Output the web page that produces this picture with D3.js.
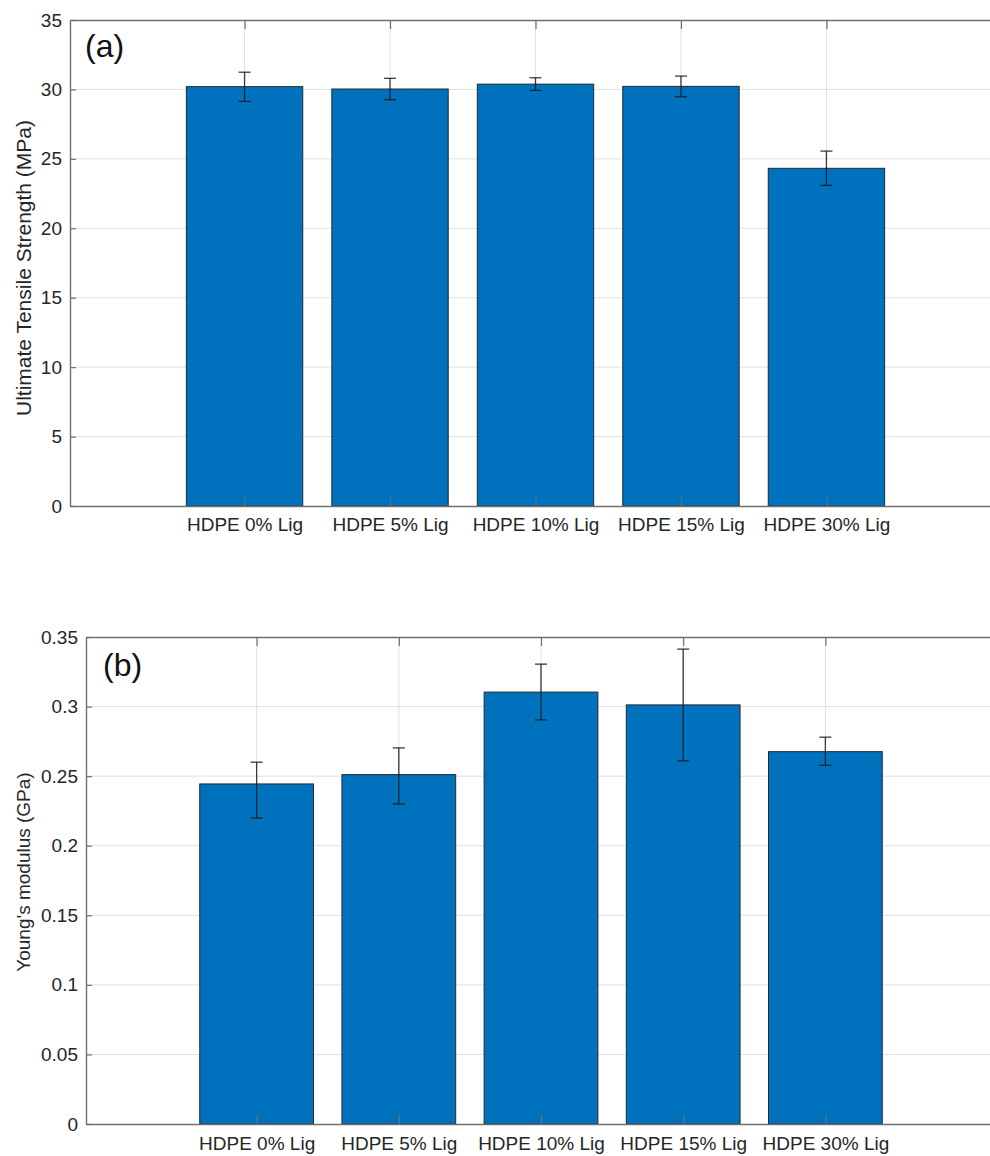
<!DOCTYPE html>
<html>
<head>
<meta charset="utf-8">
<script src="https://cdn.jsdelivr.net/npm/d3@7"></script>
<style>
  body { margin: 0; background: #fff; }
  svg { display: block; }
  text { font-family: "Liberation Sans", Arial, sans-serif; }
</style>
</head>
<body>
<svg id="chart" width="990" height="1156"></svg>
<script>
// categories shared by both panels
const categories = ["HDPE 0% Lig", "HDPE 5% Lig", "HDPE 10% Lig", "HDPE 15% Lig", "HDPE 30% Lig"];

// (a) ultimate tensile strength, MPa (error bar ends)
const utsMean = [30.2, 30.03, 30.38, 30.22, 24.32];
const utsLow  = [29.14, 29.26, 29.93, 29.47, 23.09];
const utsHigh = [31.24, 30.8, 30.84, 30.96, 25.56];
const utsTicks = [0, 5, 10, 15, 20, 25, 30, 35];

// (b) Young's modulus, GPa
const ymMean = [0.2444, 0.2511, 0.3104, 0.3012, 0.2676];
const ymLow  = [0.2199, 0.2300, 0.2904, 0.2610, 0.2578];
const ymHigh = [0.2600, 0.2703, 0.3305, 0.3413, 0.2780];
const ymTicks = [0, 0.05, 0.1, 0.15, 0.2, 0.25, 0.3, 0.35];

const svg = d3.select("#chart");
svg.append("rect").attr("width", 990).attr("height", 1156).attr("fill", "#fff");

const axisColor = "#6f6f6f";
const gridColor = "#e0e0e0";

function drawPanel(cfg){
	// cfg.box: plot area in pixels, the right side runs past the page edge
	let g = svg.append("g");
	let box = cfg.box;

	let x = d3.scaleLinear().domain([-0.2, 6.2]).range([box.left, box.right]);
	let y = d3.scaleLinear().domain([0, cfg.ymax]).range([box.bottom, box.top]);
	let idx = categories.map((c, i) => i + 1);

	// grid
	g.append("g").selectAll("line.h")
	  .data(cfg.ticks.slice(1, -1))
	  .join("line")
	  .attr("x1", box.left).attr("x2", box.right)
	  .attr("y1", d => y(d)).attr("y2", d => y(d))
	  .attr("stroke", gridColor).attr("stroke-width", 1);
	g.append("g").selectAll("line.v")
	  .data(idx)
	  .join("line")
	  .attr("x1", d => x(d)).attr("x2", d => x(d))
	  .attr("y1", box.top).attr("y2", box.bottom)
	  .attr("stroke", gridColor).attr("stroke-width", 1);

	// bars
	let bw = x(0.8) - x(0);
	g.append("g").selectAll("rect")
	  .data(cfg.mean)
	  .join("rect")
	  .attr("x", (d, i) => x(i + 1) - bw / 2)
	  .attr("width", bw)
	  .attr("y", d => y(d))
	  .attr("height", d => y(0) - y(d))
	  .attr("fill", "#0072bd")
	  .attr("stroke", "#1f2a33").attr("stroke-width", 1);

	// error bars
	let eb = g.append("g").attr("stroke", "#1a1a1a").attr("stroke-width", 1.3).attr("stroke-opacity", 0.85);
	cfg.mean.forEach((m, i) => {
		let cx = x(i + 1), lo = cfg.low[i], hi = cfg.high[i];
		eb.append("line").attr("x1", cx).attr("x2", cx).attr("y1", y(lo)).attr("y2", y(hi));
		[lo, hi].forEach(v => {
			eb.append("line").attr("x1", cx - 6).attr("x2", cx + 6).attr("y1", y(v)).attr("y2", y(v));
		});
	});

	// axes
	let yAxis = g.append("g")
	  .attr("transform", `translate(${box.left},0)`)
	  .call(d3.axisLeft(y).tickValues(cfg.ticks).tickSize(-6).tickSizeOuter(0).tickPadding(8)
	        .tickFormat(d => d3.format("")(+d.toFixed(2))));
	let xAxis = g.append("g")
	  .attr("transform", `translate(0,${box.bottom})`)
	  .call(d3.axisBottom(x).tickValues(idx).tickSize(-9).tickSizeOuter(0).tickPadding(cfg.xpad)
	        .tickFormat((d, i) => categories[i]));
	let topAxis = g.append("g")
	  .attr("transform", `translate(0,${box.top})`)
	  .call(d3.axisTop(x).tickValues(idx).tickSize(-9).tickSizeOuter(0).tickFormat(""));

	[yAxis, xAxis, topAxis].forEach(a => {
		a.select(".domain").attr("stroke", axisColor).attr("stroke-width", 1.4);
		a.selectAll(".tick line").attr("stroke", axisColor).attr("stroke-width", 1.2);
		a.selectAll(".tick text").attr("fill", "#262626").style("font-size", "19px")
		  .style("font-family", "'Liberation Sans', Arial, sans-serif");
	});

	// y label
	g.append("text")
	  .attr("transform", `translate(${cfg.labelX},${cfg.labelY}) rotate(-90)`)
	  .attr("text-anchor", "middle")
	  .attr("fill", "#262626")
	  .style("font-size", cfg.labelSize + "px")
	  .text(cfg.label);

	// panel letter
	g.append("text")
	  .attr("x", cfg.tag.x).attr("y", cfg.tag.y)
	  .attr("fill", "#111")
	  .style("font-size", "32px")
	  .text(cfg.tag.text);
}

drawPanel({
	box: {left: 70, right: 1001, top: 20, bottom: 506},
	ymax: 35, ticks: utsTicks, mean: utsMean, low: utsLow, high: utsHigh,
	label: "Ultimate Tensile Strength (MPa)", labelX: 31, labelY: 268, labelSize: 21,
	tag: {x: 85, y: 57, text: "(a)"}, xpad: 12
});

drawPanel({
	box: {left: 86, right: 996, top: 637, bottom: 1124},
	ymax: 0.35, ticks: ymTicks, mean: ymMean, low: ymLow, high: ymHigh,
	label: "Young's modulus (GPa)", labelX: 30, labelY: 872, labelSize: 19,
	tag: {x: 103, y: 676, text: "(b)"}, xpad: 13
});
</script>
</body>
</html>
